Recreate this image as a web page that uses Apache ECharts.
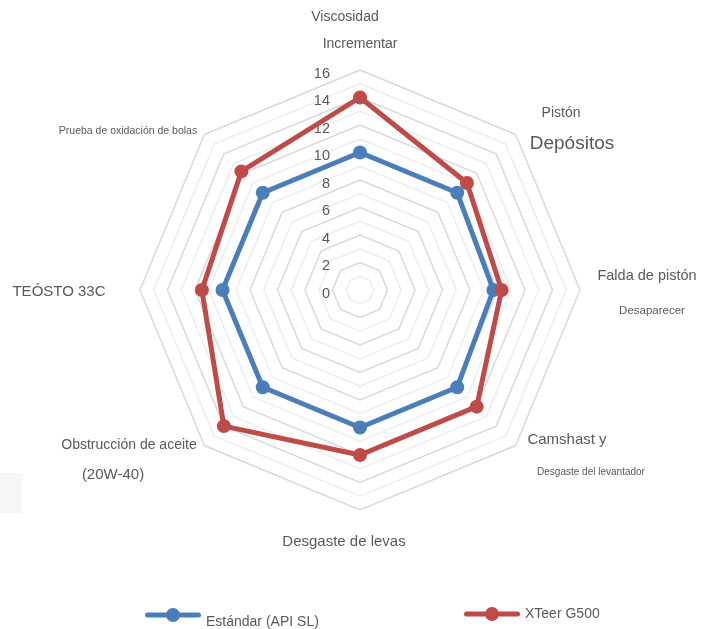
<!DOCTYPE html>
<html>
<head>
<meta charset="utf-8">
<script src="https://cdn.jsdelivr.net/npm/echarts@6/dist/echarts.min.js"></script>
<style>
html,body{margin:0;padding:0;background:#fff;}
#chart{width:714px;height:629px;}
</style>
</head>
<body>
<div id="chart"></div>
<script>
// Categories, clockwise from the top
var categories = [
  'Viscosidad Incrementar',
  'Pistón Depósitos',
  'Falda de pistón Desaparecer',
  'Camshast y Desgaste del levantador',
  'Desgaste de levas',
  'Obstrucción de aceite (20W-40)',
  'TEÓSTO 33C',
  'Prueba de oxidación de bolas'
];
var seriesNames = ['Estándar (API SL)', 'XTeer G500'];
var estandar = [10, 10, 9.7, 10, 10, 10, 10, 10];
var xteer    = [14, 11, 10.3, 12, 12, 14, 11.5, 12.2];
var tickLabels = [0, 2, 4, 6, 8, 10, 12, 14, 16];

var FONT = 'Liberation Sans, Arial, sans-serif';
var TXT = '#595959';
var BLUE = '#4a7ebb';
var RED = '#be4b48';

// ECharts lays radar indicators counter-clockwise; reorder so they run clockwise
var order = [0, 7, 6, 5, 4, 3, 2, 1];
function reorder(arr) { return order.map(function (i) { return arr[i]; }); }

var indicators = reorder(categories).map(function (c) { return { name: c, min: 0, max: 16 }; });

var legendIcon = 'path://M2.5,4.5 L53.5,4.5 A2.5,2.5 0 0 1 53.5,9.5 L2.5,9.5 A2.5,2.5 0 0 1 2.5,4.5 Z M21,7 A7,7 0 1 1 35,7 A7,7 0 1 1 21,7 Z';

function label(text, x, y, size) {
  return {
    type: 'text', x: x, y: y, silent: true,
    style: { text: text, fill: TXT, fontSize: size, fontFamily: FONT, textAlign: 'center', textVerticalAlign: 'middle' }
  };
}

var chart = echarts.init(document.getElementById('chart'));
chart.setOption({
  animation: false,
  backgroundColor: '#fff',
  textStyle: { fontFamily: FONT },
  radar: {
    center: [360, 290],
    radius: 220,
    shape: 'polygon',
    splitNumber: 16,
    indicator: indicators,
    axisName: { show: false },
    axisLine: { show: false },
    axisTick: { show: false },
    splitArea: { show: false },
    splitLine: { lineStyle: { color: ['#d9d9d9', '#ededed'], width: 1.5 } }
  },
  polar: { center: [360, 290], radius: 220 },
  angleAxis: { show: false, startAngle: 90, min: 0, max: 360 },
  radiusAxis: {
    min: 0, max: 16, interval: 2,
    axisLine: { show: false },
    axisTick: { show: false },
    splitLine: { show: false },
    axisLabel: {
      show: true, color: TXT, fontSize: 14.5, fontFamily: FONT, margin: 30,
      verticalAlign: 'top', lineHeight: 7,
      formatter: function (v) { return tickLabels.indexOf(v) >= 0 ? String(v) : ''; }
    }
  },
  legend: [
    {
      data: [{ name: seriesNames[0], icon: legendIcon }],
      left: 140, top: 596, itemWidth: 56, itemHeight: 14,
      formatter: function (n) { return '\n' + n; },
      textStyle: { color: TXT, fontSize: 14, fontFamily: FONT, lineHeight: 14 }
    },
    {
      data: [{ name: seriesNames[1], icon: legendIcon }],
      left: 459, top: 602, itemWidth: 56, itemHeight: 14,
      textStyle: { color: TXT, fontSize: 14, fontFamily: FONT, padding: [0, 0, 2, 0] }
    }
  ],
  graphic: [
    { type: 'rect', shape: { x: 0, y: 473, width: 22, height: 40 }, style: { fill: '#f6f6f6' }, silent: true },
    label('Viscosidad', 345, 17, 14),
    label('Incrementar', 360, 44, 14),
    label('Pistón', 561, 113, 14),
    label('Depósitos', 572, 144, 19),
    label('Falda de pistón', 647, 276, 14.5),
    label('Desaparecer', 652, 311, 11.5),
    label('Camshast y', 567, 440, 15),
    label('Desgaste del levantador', 591, 472, 10),
    label('Desgaste de levas', 344, 542, 15),
    label('Obstrucción de aceite', 129, 445, 14),
    label('(20W-40)', 113, 475, 15),
    label('TEÓSTO 33C', 59, 292, 15),
    label('Prueba de oxidación de bolas', 128, 131, 10.5)
  ],
  series: [
    {
      name: seriesNames[0], type: 'radar', symbol: 'circle', symbolSize: 14,
      itemStyle: { color: BLUE }, lineStyle: { color: BLUE, width: 5 },
      data: [{ value: reorder(estandar), name: seriesNames[0] }]
    },
    {
      name: seriesNames[1], type: 'radar', symbol: 'circle', symbolSize: 14,
      itemStyle: { color: RED }, lineStyle: { color: RED, width: 5 },
      data: [{ value: reorder(xteer), name: seriesNames[1] }]
    }
  ]
});
</script>
</body>
</html>
